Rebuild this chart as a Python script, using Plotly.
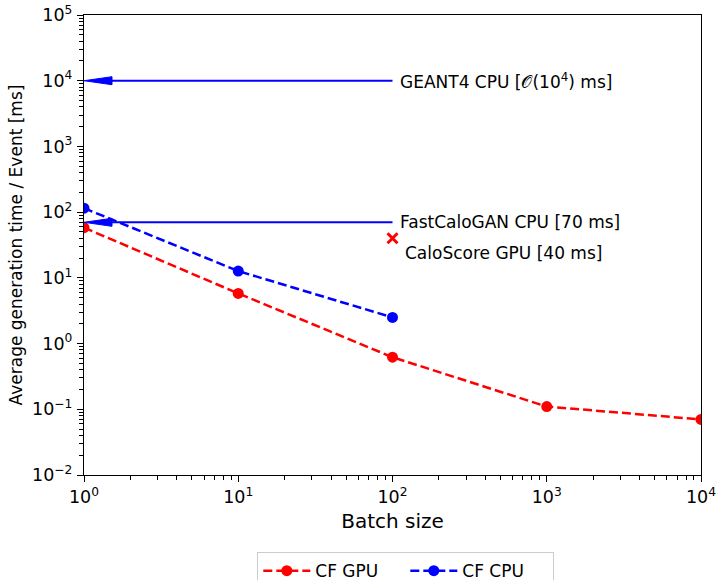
import numpy as np
import plotly.graph_objects as go

# Average generation time per event [ms] versus batch size
batch_gpu = [1, 10, 100, 1000, 10000]
time_gpu = [58, 5.8, 0.62, 0.11, 0.07]
batch_cpu = [1, 10, 100]
time_cpu = [115, 12.7, 2.5]

# Reference timings drawn as arrows pointing at the y axis
ref_labels = ["GEANT4 CPU [𝒪(10<sup>4</sup>) ms]", "FastCaloGAN CPU [70 ms]"]
ref_times = [1e4, 70]
ref_arrow_start = 100

# Single-point reference
caloscore_batch = [100]
caloscore_time = [40]
caloscore_label = "CaloScore GPU [40 ms]"

x_tick_vals = [1, 10, 100, 1000, 10000]
x_tick_text = ["10<sup>0</sup>", "10<sup>1</sup>", "10<sup>2</sup>", "10<sup>3</sup>", "10<sup>4</sup>"]
y_tick_vals = [1e-2, 1e-1, 1, 10, 100, 1e3, 1e4, 1e5]
y_tick_text = ["10<sup>−2</sup>", "10<sup>−1</sup>", "10<sup>0</sup>", "10<sup>1</sup>",
               "10<sup>2</sup>", "10<sup>3</sup>", "10<sup>4</sup>", "10<sup>5</sup>"]

FONT = "DejaVu Sans"
RED = "#ff0000"
BLUE = "#0000ff"

# plot geometry (px) used for sizing the arrow heads in log units
PX_PER_DEC_X = 617 / 4
PX_PER_DEC_Y = 460 / 7
HEAD_LEN_PX = 28
HEAD_HALF_PX = 4

fig = go.Figure()

fig.add_trace(go.Scatter(
    x=batch_gpu, y=time_gpu, mode="lines+markers", name="CF GPU",
    line=dict(color=RED, width=2.5, dash="9px,4px"),
    marker=dict(color=RED, size=11),
))
fig.add_trace(go.Scatter(
    x=batch_cpu, y=time_cpu, mode="lines+markers", name="CF CPU",
    line=dict(color=BLUE, width=2.5, dash="9px,4px"),
    marker=dict(color=BLUE, size=11),
))

fig.add_trace(go.Scatter(
    x=caloscore_batch, y=caloscore_time, mode="markers", showlegend=False,
    marker=dict(symbol="x-thin-open", color=RED, size=10, line=dict(color=RED, width=3)),
))

head_dx = 10 ** (HEAD_LEN_PX / PX_PER_DEC_X)
head_dy = 10 ** (HEAD_HALF_PX / PX_PER_DEC_Y)
x_tip = x_tick_vals[0]
for label, t in zip(ref_labels, ref_times):
    fig.add_trace(go.Scatter(
        x=[ref_arrow_start, x_tip * head_dx], y=[t, t], mode="lines",
        line=dict(color=BLUE, width=2), showlegend=False, hoverinfo="skip",
    ))
    fig.add_trace(go.Scatter(
        x=[x_tip, x_tip * head_dx, x_tip * head_dx, x_tip],
        y=[t, t * head_dy, t / head_dy, t],
        mode="lines", fill="toself", fillcolor=BLUE,
        line=dict(color=BLUE, width=1), showlegend=False, hoverinfo="skip",
    ))
    fig.add_annotation(
        x=np.log10(ref_arrow_start), y=np.log10(t), text=label, showarrow=False,
        xanchor="left", yanchor="middle", xshift=5,
        font=dict(family=FONT, size=17, color="black"),
    )

fig.add_annotation(
    x=np.log10(caloscore_batch[0]), y=np.log10(caloscore_time[0]), text=caloscore_label,
    showarrow=False, xanchor="left", yanchor="middle", xshift=10, yshift=-15,
    font=dict(family=FONT, size=17, color="black"),
)

minor_x = [m * 10 ** d for d in range(0, 4) for m in range(2, 10)]
minor_y = [m * 10.0 ** d for d in range(-2, 5) for m in range(2, 10)]

axis_common = dict(
    type="log", showgrid=False, zeroline=False,
    showline=True, linecolor="black", linewidth=1.3, mirror=True,
    ticks="outside", ticklen=6, tickwidth=1.3, tickcolor="black",
    tickfont=dict(family=FONT, size=17.5, color="black"),
)

fig.update_xaxes(
    range=[0, 4], tickmode="array", tickvals=x_tick_vals, ticktext=x_tick_text,
    minor=dict(tickmode="array", tickvals=minor_x, ticks="outside", ticklen=3.5,
               tickwidth=1, tickcolor="black"),
    title=dict(text="Batch size", font=dict(family=FONT, size=20, color="black"), standoff=7),
    **axis_common,
)
fig.update_yaxes(
    range=[-2, 5], tickmode="array", tickvals=y_tick_vals, ticktext=y_tick_text,
    minor=dict(tickmode="array", tickvals=minor_y, ticks="outside", ticklen=3.5,
               tickwidth=1, tickcolor="black"),
    title=dict(text="Average generation time / Event [ms]",
               font=dict(family=FONT, size=17, color="black"), standoff=5),
    ticklabelstandoff=1,
    **axis_common,
)

fig.update_layout(
    width=717, height=580,
    margin=dict(l=84, r=16, t=15, b=105, autoexpand=False),
    paper_bgcolor="white", plot_bgcolor="white",
    font=dict(family=FONT, color="black"),
    legend=dict(
        orientation="h", x=0.2804, xanchor="left", y=-0.167, yanchor="top",
        bordercolor="#cccccc", borderwidth=1.3, bgcolor="white",
        entrywidth=85, itemwidth=47,
        font=dict(family=FONT, size=17, color="black"),
    ),
)

fig.write_html("out.html")
